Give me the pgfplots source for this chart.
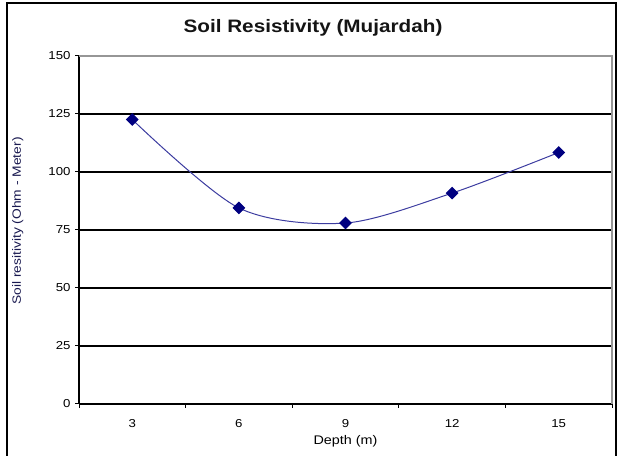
\documentclass[border=0pt]{standalone}
\usepackage{fontspec}
\setmainfont{Liberation Sans}[FakeStretch=1.15]
\usepackage{pgfplots}
\pgfplotsset{compat=1.18}

\definecolor{navy}{RGB}{0,0,128}
\definecolor{curve}{RGB}{60,60,160}
\definecolor{border}{RGB}{150,150,150}

\begin{document}
\begin{tikzpicture}[x=1bp,y=1bp]
  % chart area frame
  \path[use as bounding box] (0,0) rectangle (619,456);
  \draw[black, line width=1.3bp] (7,-3) rectangle (616,453);

  \begin{axis}[
    at={(79bp,52bp)}, anchor=south west,
    scale only axis, width=533bp, height=348bp,
    xmin=0.5, xmax=5.5, ymin=0, ymax=150,
    axis x line*=bottom, axis y line*=left,
    axis line style={black, line width=1.2bp, -},
    xtick={1,2,3,4,5},
    xticklabels={3,6,9,12,15},
    minor xtick={0.5,1.5,2.5,3.5,4.5,5.5},
    ytick={0,25,...,150},
    ymajorgrids,
    major grid style={black, line width=1.1bp},
    major x tick style={draw=none},
    minor tick length=4bp,
    major tick length=4bp,
    tick align=outside,
    tick style={black, line width=1bp},
    every tick label/.style={font=\fontsize{11.5bp}{13bp}\selectfont, text=black},
    xticklabel style={yshift=-8bp},
    yticklabel style={xshift=-1bp},
    /pgf/number format/assume math mode=true,
    xlabel={Depth (m)},
    xlabel style={font=\fontsize{12.5bp}{14bp}\selectfont, at={(axis description cs:0.5,0)}, anchor=center, yshift=-37bp},
    ylabel={Soil resitivity (Ohm - Meter)},
    ylabel style={font=\fontsize{12bp}{13bp}\selectfont, text={rgb,255:red,25;green,25;blue,80}, at={(axis description cs:-0.115,0.526)}, anchor=center},
    clip=false,
  ]
    \addplot[curve, line width=1bp, smooth, tension=0.5,
      mark=square*, mark size=4bp,
      mark options={navy, fill=navy, rotate=45, solid}]
      coordinates {(1,122.6) (2,84.5) (3,78.0) (4,90.9) (5,108.4)};
    % plot area border, top and right
    \draw[border, line width=1.3bp] (rel axis cs:0,1) -- (rel axis cs:1,1) -- (rel axis cs:1,0);
  \end{axis}

  \node[font=\bfseries\fontsize{18bp}{21bp}\selectfont, text={rgb,255:red,20;green,20;blue,20}] at (313,428) {Soil Resistivity (Mujardah)};
\end{tikzpicture}
\end{document}
